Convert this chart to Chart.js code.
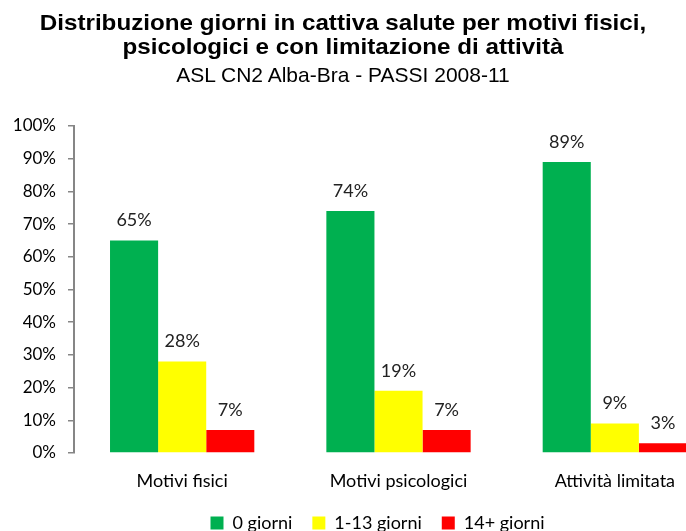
<!DOCTYPE html>
<html>
<head>
<meta charset="utf-8">
<script src="https://cdn.jsdelivr.net/npm/chart.js@4"></script>
<style>
  html, body { margin: 0; padding: 0; background: #fff; }
  body { width: 686px; height: 531px; overflow: hidden; position: relative; }
  .riga {
    position: absolute; left: 0; width: 686px; text-align: center; white-space: nowrap;
    font-family: "Liberation Sans", Arial, sans-serif; color: #000; z-index: 2;
  }
  .bold { font-weight: bold; font-size: 22px; line-height: 23px; transform: scaleX(1.1); }
  .sub { font-size: 21px; line-height: 24px; }
  #wrap { position: absolute; left: 0; top: 0; width: 740px; height: 542px; }
</style>
</head>
<body>
<div class="riga bold" style="top:11px">Distribuzione giorni in cattiva salute per motivi fisici,</div>
<div class="riga bold" style="top:35px">psicologici e con limitazione di attività</div>
<div class="riga sub" style="top:63px">ASL CN2 Alba-Bra - PASSI 2008-11</div>
<div id="wrap"><canvas id="grafico" width="740" height="542"></canvas></div>
<script>
// dati
const categorie = ['Motivi fisici', 'Motivi psicologici', 'Attività limitata'];
const serie = ['0 giorni', '1-13 giorni', '14+ giorni'];
const zeroGiorni = [65, 74, 89];
const unoTredici = [28, 19, 9];
const quattordiciPiu = [7, 7, 3];
const colori = ['#00B050', '#FFFF00', '#FF0000'];
const tickY = [0, 10, 20, 30, 40, 50, 60, 70, 80, 90, 100];

const font = 'Lato, "Open Sans", sans-serif';

// etichette sopra le barre
const etichette = {
  id: 'etichette',
  afterLayout(chart) {
    // legenda un po' spostata a destra come nell'originale
    chart.legend.left += 16;
    chart.legend.right += 16;
  },
  afterDatasetsDraw(chart) {
    const ctx = chart.ctx;
    ctx.save();
    ctx.font = '18px ' + font;
    ctx.fillStyle = '#222';
    ctx.textAlign = 'center';
    ctx.textBaseline = 'middle';
    chart.data.datasets.forEach((ds, i) => {
      chart.getDatasetMeta(i).data.forEach((bar, j) => {
        ctx.fillText(ds.data[j] + '%', bar.x, bar.y - 20);
      });
    });
    ctx.restore();
  }
};

const valori = [zeroGiorni, unoTredici, quattordiciPiu];

new Chart(document.getElementById('grafico'), {
  type: 'bar',
  data: {
    labels: categorie,
    datasets: serie.map((s, i) => ({
      label: s,
      data: valori[i],
      backgroundColor: colori[i],
      borderWidth: 0,
      barPercentage: 1,
      categoryPercentage: 0.667
    }))
  },
  options: {
    responsive: false,
    animation: false,
    layout: { padding: { top: 126, right: 17, left: 0, bottom: 0 } },
    plugins: {
      legend: {
        position: 'bottom',
        labels: {
          font: { family: font, size: 18 },
          color: '#000',
          boxWidth: 13,
          boxHeight: 13,
          padding: 20
        }
      },
      tooltip: { enabled: false }
    },
    scales: {
      x: {
        afterFit(scale) { scale.height = 41; },
        grid: { display: false, drawTicks: false },
        border: { display: false },
        ticks: { font: { family: font, size: 18 }, color: '#000', padding: 17 }
      },
      y: {
        min: 0,
        max: 100,
        afterFit(scale) { scale.width = 74; },
        afterBuildTicks(scale) { scale.ticks = tickY.map(v => ({ value: v })); },
        grid: { drawOnChartArea: false, drawTicks: true, tickLength: 6, color: '#868686', lineWidth: 1.5 },
        border: { display: true, color: '#868686', width: 2 },
        ticks: {
          font: { family: font, size: 17 },
          color: '#000',
          padding: 12,
          callback: v => v + '%'
        }
      }
    }
  },
  plugins: [etichette]
});
</script>
</body>
</html>
